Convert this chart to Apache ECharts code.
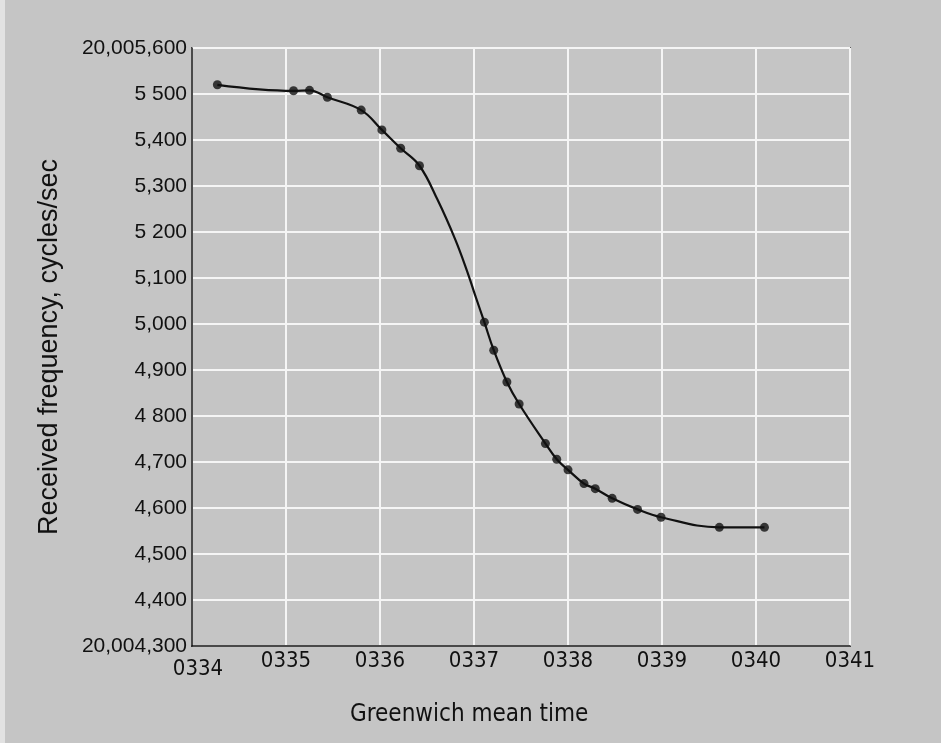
<!DOCTYPE html>
<html>
<head>
<meta charset="utf-8">
<script src="https://cdn.jsdelivr.net/npm/echarts@6/dist/echarts.min.js"></script>
<style>
  html, body { margin: 0; padding: 0; background: #c5c5c5; }
  #chart { width: 941px; height: 743px; box-sizing: border-box; border-left: 5px solid #e2e2e2; }
</style>
</head>
<body>
<div id="chart"></div>
<script>
// observed points: time in minutes (0334 = 334), received frequency in cycles/sec
var obsTime = [334.27, 335.08, 335.25, 335.44, 335.80, 336.02, 336.22, 336.42,
  337.11, 337.21, 337.35, 337.48, 337.76, 337.88, 338.00, 338.17, 338.29, 338.47,
  338.74, 338.99, 339.61, 340.09];
var obsFreq = [20005520, 20005507, 20005508, 20005493, 20005465, 20005422, 20005382, 20005344,
  20005004, 20004943, 20004874, 20004826, 20004740, 20004706, 20004683, 20004653, 20004642, 20004621,
  20004597, 20004580, 20004558, 20004558];

// points read off the drawn curve where there are no observations
var gapTime = [336.61, 336.80, 336.93, 337.00];
var gapFreq = [20005271, 20005184, 20005113, 20005070];

var yTickLabels = ["20,004,300", "4,400", "4,500", "4,600", "4,700", "4 800", "4,900",
  "5,000", "5,100", "5 200", "5,300", "5,400", "5 500", "20,005,600"];
var xTickLabels = ["0334", "0335", "0336", "0337", "0338", "0339", "0340", "0341"];

var chart = echarts.init(document.getElementById("chart"));

//curve goes through observations and the gap points, sorted by time
var curve = [];
obsTime.forEach(function (t, i) { curve.push([t, obsFreq[i]]); });
gapTime.forEach(function (t, i) { curve.push([t, gapFreq[i]]); });
curve.sort(function (a, b) { return a[0] - b[0]; });

var dots = obsTime.map(function (t, i) { return [t, obsFreq[i]]; });

var narrow = "'Liberation Sans Narrow', 'DejaVu Sans Condensed', 'Liberation Sans', sans-serif";

var option = {
  backgroundColor: "#c5c5c5",
  animation: false,
  grid: {
    left: 187, right: 91, top: 48, bottom: 97,
    show: true,
    borderColor: "#111",
    borderWidth: 1.5,
    backgroundColor: "transparent"
  },
  xAxis: {
    type: "value",
    min: 334, max: 341, interval: 1,
    axisLine: { show: true, onZero: false, lineStyle: { color: "#111", width: 1.5 } },
    axisTick: { show: false },
    splitLine: { show: true, lineStyle: { color: "#f5f5f5", width: 2 } },
    axisLabel: {
      margin: 4,
      color: "#111",
      fontFamily: narrow,
      fontSize: 22,
      formatter: function (v) {
        var s = xTickLabels[Math.round(v - 334)];
        return v === 334 ? "{first|" + s + "}" : s;
      },
      rich: {
        first: { fontFamily: narrow, fontSize: 22, color: "#111", padding: [8, 0, 0, 12] }
      }
    }
  },
  yAxis: {
    type: "value",
    min: 20004300, max: 20005600, interval: 100,
    name: "Received frequency, cycles/sec",
    nameLocation: "middle",
    nameGap: 129,
    nameTextStyle: { color: "#111", fontFamily: "'Liberation Sans', sans-serif", fontSize: 27 },
    axisLine: { show: true, lineStyle: { color: "#111", width: 1.5 } },
    axisTick: { show: false },
    splitLine: { show: true, lineStyle: { color: "#f5f5f5", width: 2 } },
    axisLabel: {
      margin: 5,
      color: "#111",
      fontFamily: "'Liberation Sans', sans-serif",
      fontSize: 21,
      formatter: function (v) {
        return yTickLabels[Math.round((v - 20004300) / 100)];
      }
    }
  },
  graphic: [{
    type: "text",
    left: 345,
    top: 703,
    style: {
      text: "Greenwich mean time",
      fill: "#111",
      font: "24px " + narrow
    }
  }],
  series: [
    {
      name: "curve",
      type: "line",
      data: curve,
      smooth: 0.4,
      showSymbol: false,
      lineStyle: { color: "#111", width: 2.2 },
      z: 3
    },
    {
      name: "observed",
      type: "scatter",
      data: dots,
      symbol: "circle",
      symbolSize: 9,
      itemStyle: { color: "#111" },
      z: 4
    }
  ]
};

chart.setOption(option);
</script>
</body>
</html>
